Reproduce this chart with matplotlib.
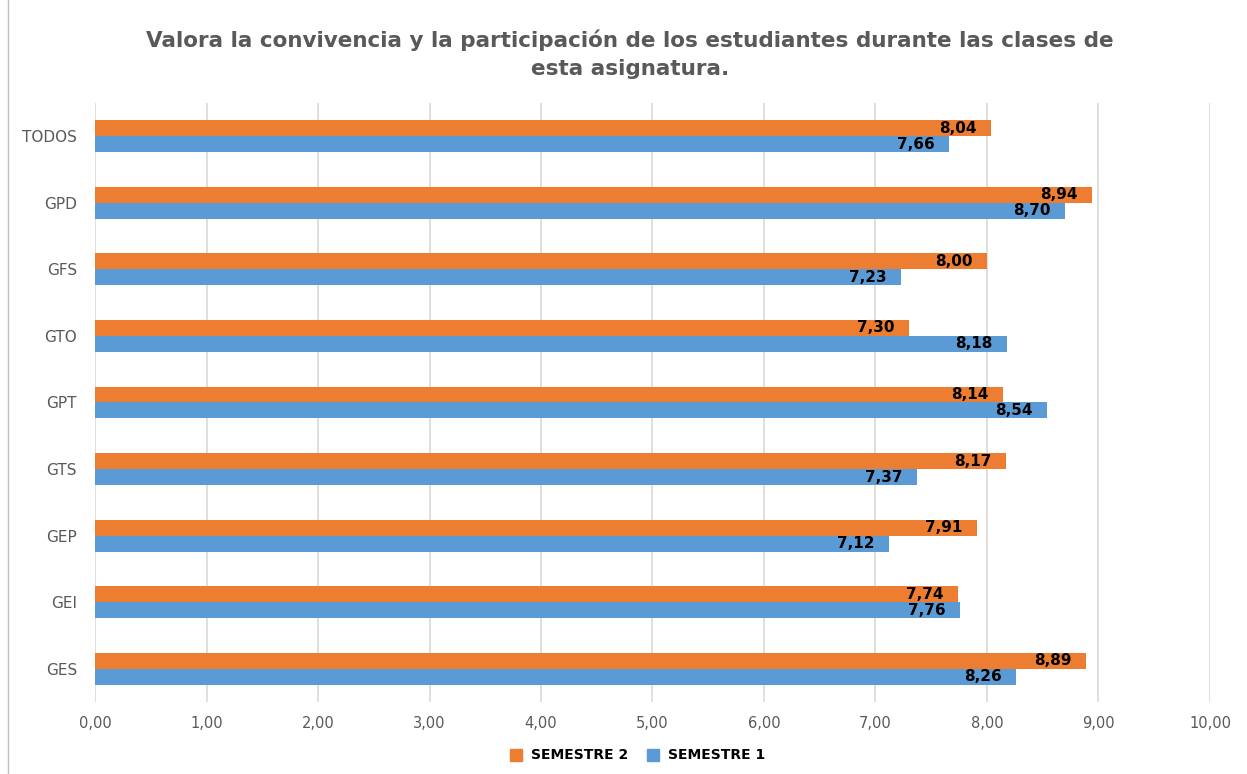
import matplotlib.pyplot as plt
import numpy as np
from matplotlib.lines import Line2D

categories = ["GES", "GEI", "GEP", "GTS", "GPT", "GTO", "GFS", "GPD", "TODOS"]
semestre_2 = [8.89, 7.74, 7.91, 8.17, 8.14, 7.30, 8.00, 8.94, 8.04]
semestre_1 = [8.26, 7.76, 7.12, 7.37, 8.54, 8.18, 7.23, 8.70, 7.66]
x_ticks = [0, 1, 2, 3, 4, 5, 6, 7, 8, 9, 10]

ORANGE = "#ED7D31"
BLUE = "#5B9BD5"
GRAY = "#595959"

plt.rcParams["font.family"] = ["DejaVu Sans"]

fig = plt.figure(figsize=(12.47, 7.74), dpi=100)
ax = fig.add_axes([0.0762, 0.093, 0.8941, 0.774])

y = np.arange(len(categories))
h = 0.24
bars2 = ax.barh(y + h / 2, semestre_2, height=h, color=ORANGE, label="SEMESTRE 2", zorder=3)
bars1 = ax.barh(y - h / 2, semestre_1, height=h, color=BLUE, label="SEMESTRE 1", zorder=3)

for bars in (bars2, bars1):
    for b in bars:
        v = b.get_width()
        ax.text(v - 0.13, b.get_y() + b.get_height() / 2, f"{v:.2f}".replace(".", ","),
                ha="right", va="center", fontsize=11, fontweight="bold", color="black", zorder=4)

ax.set_xlim(0, 10)
ax.set_ylim(-0.5, len(categories) - 0.5)
ax.set_xticks(x_ticks)
ax.set_xticklabels([f"{t:.2f}".replace(".", ",") for t in x_ticks])
ax.set_yticks(y)
ax.set_yticklabels(categories)
ax.tick_params(axis="both", length=0, labelsize=10.5, labelcolor=GRAY)
ax.tick_params(axis="y", labelsize=11)
ax.tick_params(axis="x", pad=10)
ax.tick_params(axis="y", pad=13)
ax.grid(axis="x", color="#D9D9D9", linewidth=1.2, zorder=0)
for s in ax.spines.values():
    s.set_visible(False)

fig.suptitle("Valora la convivencia y la participación de los estudiantes durante las clases de\nesta asignatura.",
             x=0.505, y=0.962, fontsize=15.5, fontweight="bold", color=GRAY, linespacing=1.5)

handles = [Line2D([], [], marker="s", linestyle="none", markersize=8, color=ORANGE),
           Line2D([], [], marker="s", linestyle="none", markersize=8, color=BLUE)]
leg = fig.legend(handles, ["SEMESTRE 2", "SEMESTRE 1"], loc="center", bbox_to_anchor=(0.508, 0.024),
                 ncol=2, frameon=False, handletextpad=0.05, columnspacing=0.8,
                 prop={"weight": "bold", "size": 10})

fig.add_artist(Line2D([0.0065, 0.0065], [0, 1], transform=fig.transFigure, color="#BFBFBF", linewidth=1))

fig.savefig("out.png", dpi=100)
